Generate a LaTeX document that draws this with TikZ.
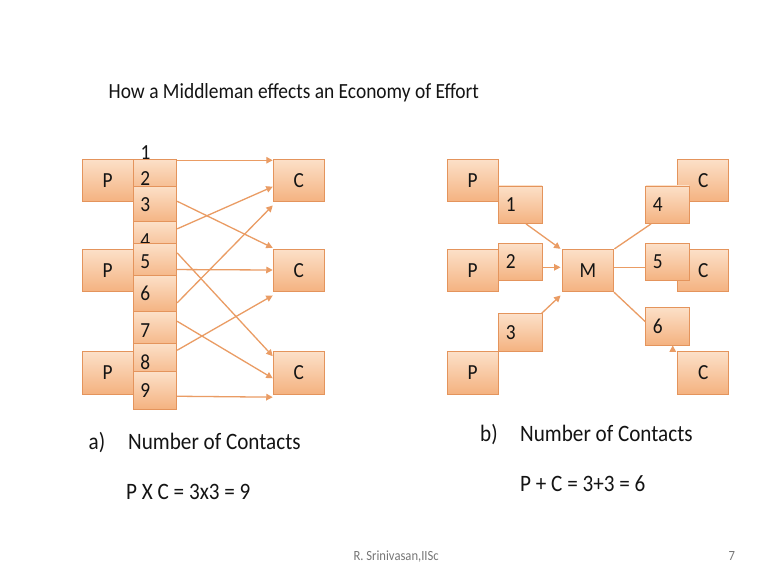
\documentclass[tikz,border=0pt]{standalone}
\usepackage{fontspec}
\setmainfont{Carlito}[FakeStretch=0.9]
\usetikzlibrary{arrows.meta,calc}
\definecolor{boxtop}{RGB}{252,224,200}
\definecolor{boxbot}{RGB}{244,178,128}
\definecolor{boxedge}{RGB}{228,148,92}
\definecolor{linkc}{RGB}{234,156,100}
\definecolor{footc}{RGB}{118,118,118}
\definecolor{inkc}{RGB}{20,20,20}
\tikzset{
  bigbox/.style={draw=boxedge, line width=0.9pt, top color=boxtop, bottom color=boxbot,
    minimum width=51pt, minimum height=42.4pt, inner sep=0pt, text=inkc,
    font=\fontsize{21.5}{25}\selectfont},
  numbox/.style={draw=boxedge, line width=0.9pt, top color=boxtop, bottom color=boxbot,
    text width=29.4pt, inner xsep=7pt, inner ysep=0pt, minimum height=37.5pt,
    align=left, text=inkc, font=\fontsize{21.5}{25}\selectfont},
  link/.style={draw=linkc, line width=1.3pt},
  arr/.style={link, -{Triangle[length=6.5pt,width=6.5pt]}},
  lbl/.style={anchor=base west, inner sep=0pt, text=inkc, font=\fontsize{23.5}{28}\selectfont},
  foot/.style={anchor=base west, inner sep=0pt, text=footc, font=\fontsize{14}{17}\selectfont},
}
\begin{document}
\begin{tikzpicture}[x=1pt,y=-1pt]
\useasboundingbox (0,0) rectangle (765,573);
\fill[white] (0,0) rectangle (765,573);

% title
\node[anchor=base west, inner sep=0pt, text=inkc, font=\fontsize{21.6}{25}\selectfont] (title) at (108.5,98.7)
  {How a Middleman effects an Economy of Effort};

% ---------- left panel ----------
\node[bigbox] (lp1) at (107.5,180.5) {P};
\node[bigbox] (lp2) at (107.5,270.5) {P};
\node[bigbox] (lp3) at (107.5,372.8) {P};
\node[bigbox] (lc1) at (298.7,180.5) {C};
\node[bigbox] (lc2) at (298.7,270.5) {C};
\node[bigbox] (lc3) at (298.7,372.8) {C};

\node[anchor=west, inner sep=0pt, text=inkc, font=\fontsize{21.5}{25}\selectfont] (n1) at (140.5,152.5) {1};
\node[numbox] (n2) at (155,178.05) {2};
\node[numbox] (n3) at (155,204.75) {3};
\node[numbox] (n4) at (155,240.45) {4};
\node[numbox] (n5) at (155,262.05) {5};
\node[numbox] (n6) at (155,293.75) {6};
\node[numbox] (n7) at (155,330.45) {7};
\node[numbox] (n8) at (155,362.05) {8};
\node[numbox] (n9) at (155,390.45) {9};

\draw[arr] ($(n2.north east)+(0,1.4)$) -- ($(lc1.north west)+(0,1.4)$);
\draw[arr] ($(n3.north east)+(0,15.7)$) -- ($(lc2.north west)+(0,-1)$);
\draw[arr] ($(n4.north east)+(0,7.6)$) -- ($(lc1.west)+(0,6.2)$);
\draw[arr] ($(n5.north east)+(0,10)$) -- ($(lc3.north west)+(0,5)$);
\draw[arr] ($(n5.north east)+(0,26.7)$) -- ($(lc2.west)+(0,-0.5)$);
\draw[arr] ($(n6.north east)+(0,28.3)$) -- ($(lc1.south west)+(0,3.3)$);
\draw[arr] ($(n7.north east)+(0,10)$) -- ($(lc3.west)+(0,5.5)$);
\draw[arr] ($(n8.north east)+(0,7.4)$) -- ($(lc2.south west)+(0,3.3)$);
\draw[arr] ($(n9.north east)+(0,25)$) -- ($(lc3.south west)+(0,2.7)$);

% ---------- right panel ----------
\node[bigbox] (rp1) at (472.5,180.5) {P};
\node[numbox] (r1) at (520.5,204.7) {1};
\node[bigbox] (rp2) at (472.5,270.5) {P};
\node[numbox] (r2) at (520.5,262) {2};
\node[numbox] (r3) at (520.5,332.5) {3};
\node[bigbox] (rp3) at (472.5,372.8) {P};

\node[bigbox] (m) at (588,270.5) {M};

\node[bigbox] (rc1) at (703.3,180.5) {C};
\node[numbox] (r4) at (667.5,204.7) {4};
\node[bigbox] (rc2) at (703.3,270.5) {C};
\node[numbox] (r5) at (667.5,262) {5};
\node[numbox] (r6) at (667.5,326.2) {6};
\node[bigbox] (rc3) at (703.3,372.8) {C};

\draw[arr] ($(r1.south)+(5.5,0)$) -- ($(m.north west)+(-1.5,0)$);
\draw[arr] ($(r2.east)+(0,5.3)$) -- ($(m.west)+(-1.5,-3.2)$);
\draw[arr] ($(r3.north east)+(-1,0)$) -- ($(m.south west)+(-1.5,3.3)$);
\draw[link] ($(m.north east)+(0.5,0)$) -- ($(r4.south west)+(5.7,0)$);
\draw[link] ($(m.east)+(0,-3.2)$) -- ($(r5.west)+(0,5.3)$);
\draw[link] (m.south east) -- ($(r6.west)+(0,-4.5)$);
\draw[arr] ($(rc3.north west)+(-4.6,0)$) -- ($(r6.south)+(5.2,0)$);

% ---------- captions ----------
\node[lbl] (la) at (88.5,449.3) {a)};
\node[lbl] (lanum) at (128,449.3) {Number of Contacts};
\node[lbl] (laeq) at (126,499.3) {P X C = 3x3 = 9};
\node[lbl] (lb) at (480,441.7) {b)};
\node[lbl] (lbnum) at (520,441.7) {Number of Contacts};
\node[lbl] (lbeq) at (520,491.7) {P + C = 3+3 = 6};

\node[foot] (author) at (353.3,560.5) {R. Srinivasan,IISc};
\node[foot] (page) at (728.3,560.5) {7};
\end{tikzpicture}
\end{document}
